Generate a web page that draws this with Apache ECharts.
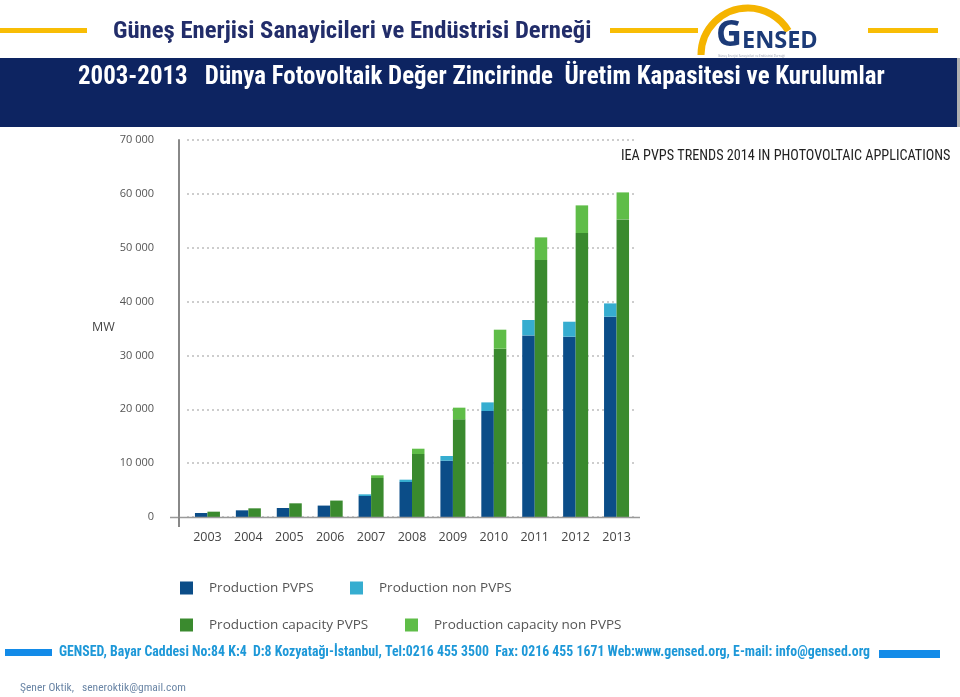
<!DOCTYPE html>
<html>
<head>
<meta charset="utf-8">
<script src="https://cdn.jsdelivr.net/npm/echarts@6/dist/echarts.min.js"></script>
<style>
html,body{margin:0;padding:0;background:#fff;}
#chart{width:960px;height:697px;}
</style>
</head>
<body>
<div id="chart"></div>
<script>
const years = ['2003','2004','2005','2006','2007','2008','2009','2010','2011','2012','2013'];
const productionPVPS = [740,1240,1670,2120,3900,6500,10450,19680,33720,33480,37190];
const productionNonPVPS = [0,0,0,0,310,430,880,1600,2860,2780,2470];
const capacityPVPS = [990,1610,2540,3050,7240,11700,18130,31250,47720,52730,55260];
const capacityNonPVPS = [0,0,0,0,500,980,2170,3530,4200,5130,5010];
const seriesNames = ['Production PVPS','Production non PVPS','Production capacity PVPS','Production capacity non PVPS'];
const seriesColors = ['#0b4d88','#36add0','#3a8a2e','#5fbd48'];

const chart = echarts.init(document.getElementById('chart'), null, {renderer:'canvas'});
const narrow = '"Liberation Sans Narrow","Roboto Condensed",Roboto,sans-serif';
const ui = '"Open Sans",Roboto,sans-serif';

function legendAt(i, left, top){
  return {
    data:[seriesNames[i]], left:left, top:top, padding:0, icon:'rect',
    itemWidth:13, itemHeight:13, selectedMode:false,
    textStyle:{fontFamily:ui, fontSize:13.5, color:'#555', padding:[0,0,0,11]}
  };
}

const option = {
  backgroundColor:'#ffffff',
  animation:false,
  grid:{left:187, right:323, top:140, bottom:180, containLabel:false},
  legend:[legendAt(0,180,581), legendAt(1,350,581), legendAt(2,180,618), legendAt(3,405,618)],
  xAxis:{
    type:'category', data:years,
    axisLine:{show:false}, axisTick:{show:false},
    axisLabel:{color:'#444', fontFamily:ui, fontSize:12.5, margin:14}
  },
  yAxis:{
    type:'value', min:0, max:70000, interval:10000, offset:8,
    axisLine:{show:true, lineStyle:{color:'#888', width:2}},
    axisTick:{show:false},
    axisLabel:{color:'#555', fontFamily:ui, fontSize:11, margin:25,
      formatter:function(v){ return String(v).replace(/\B(?=(\d{3})+(?!\d))/g,' '); }},
    splitLine:{show:true, lineStyle:{color:'#bdbdbd', width:1.5, type:[2,3]}}
  },
  series:[
    {name:seriesNames[0], type:'bar', stack:'prod', data:productionPVPS, barWidth:12.5, barGap:'0%', itemStyle:{color:seriesColors[0]}},
    {name:seriesNames[1], type:'bar', stack:'prod', data:productionNonPVPS, barWidth:12.5, barGap:'0%', itemStyle:{color:seriesColors[1]}},
    {name:seriesNames[2], type:'bar', stack:'cap', data:capacityPVPS, barWidth:12.5, barGap:'0%', itemStyle:{color:seriesColors[2]}},
    {name:seriesNames[3], type:'bar', stack:'cap', data:capacityNonPVPS, barWidth:12.5, barGap:'0%', itemStyle:{color:seriesColors[3]}}
  ],
  graphic:[
    // header yellow bars
    {type:'rect', shape:{x:0,y:28,width:87,height:5}, style:{fill:'#f8bd05'}},
    {type:'rect', shape:{x:610,y:28,width:88,height:5}, style:{fill:'#f8bd05'}},
    {type:'rect', shape:{x:868,y:28,width:70,height:5}, style:{fill:'#f8bd05'}},
    {type:'text', x:113, y:32, style:{text:'Güneş Enerjisi Sanayicileri ve Endüstrisi Derneği', fill:'#222d6a',
      font:'bold 24.7px '+narrow, textVerticalAlign:'middle'}},
    // logo
    {type:'arc', shape:{cx:748, cy:55, r:47, startAngle:Math.PI, endAngle:Math.PI*2-0.54, clockwise:true},
      style:{stroke:'#f5b400', lineWidth:7, fill:null}},
    {type:'text', x:716, y:54, style:{text:'G', fill:'#1c3b78', font:'bold 36px '+ui, textVerticalAlign:'bottom'}},
    {type:'text', x:742, y:53, style:{text:'ENSED', fill:'#1c3b78', font:'bold 23.5px '+ui, textVerticalAlign:'bottom'}},
    {type:'text', x:718, y:56, style:{text:'Güneş Enerjisi Sanayicileri ve Endüstrisi Derneği', fill:'#9aa0b0', font:'3px '+ui, textVerticalAlign:'middle'}},
    // navy band
    {type:'rect', shape:{x:0,y:58,width:957,height:69}, style:{fill:'#0d2461'}},
    {type:'rect', shape:{x:957,y:58,width:3,height:69}, style:{fill:'#b0b0b0'}},
    {type:'text', x:78, y:78, style:{text:'2003-2013   Dünya Fotovoltaik Değer Zincirinde  Üretim Kapasitesi ve Kurulumlar', fill:'#ffffff',
      font:'bold 24.9px '+narrow, textVerticalAlign:'middle'}},
    // source
    {type:'text', x:621, y:156, style:{text:'IEA PVPS TRENDS 2014 IN PHOTOVOLTAIC APPLICATIONS', fill:'#222', font:'14.2px '+narrow, textVerticalAlign:'middle'}},
    // axis name
    {type:'text', x:92, y:327, style:{text:'MW', fill:'#444', font:'12.5px '+ui, textVerticalAlign:'middle'}},
    // axis lines
    {type:'line', shape:{x1:170,y1:517.5,x2:640,y2:517.5}, style:{stroke:'#9a9a9a', lineWidth:1.5}, z:10},
    {type:'line', shape:{x1:179,y1:517,x2:179,y2:527}, style:{stroke:'#888', lineWidth:2}, z:10},
    // footer
    {type:'rect', shape:{x:5,y:649,width:47,height:7}, style:{fill:'#138be8'}},
    {type:'rect', shape:{x:879,y:650,width:61,height:8}, style:{fill:'#138be8'}},
    {type:'text', x:59, y:653, style:{text:'GENSED, Bayar Caddesi No:84 K:4  D:8 Kozyatağı-İstanbul, Tel:0216 455 3500  Fax: 0216 455 1671 Web:www.gensed.org, E-mail: info@gensed.org',
      fill:'#1d98d8', font:'bold 13.8px '+narrow, textVerticalAlign:'middle'}},
    {type:'text', x:20, y:688, style:{text:'Şener Oktik,   seneroktik@gmail.com', fill:'#6b86a6', font:'11.5px '+narrow, textVerticalAlign:'middle'}}
  ]
};
chart.setOption(option);
</script>
</body>
</html>
